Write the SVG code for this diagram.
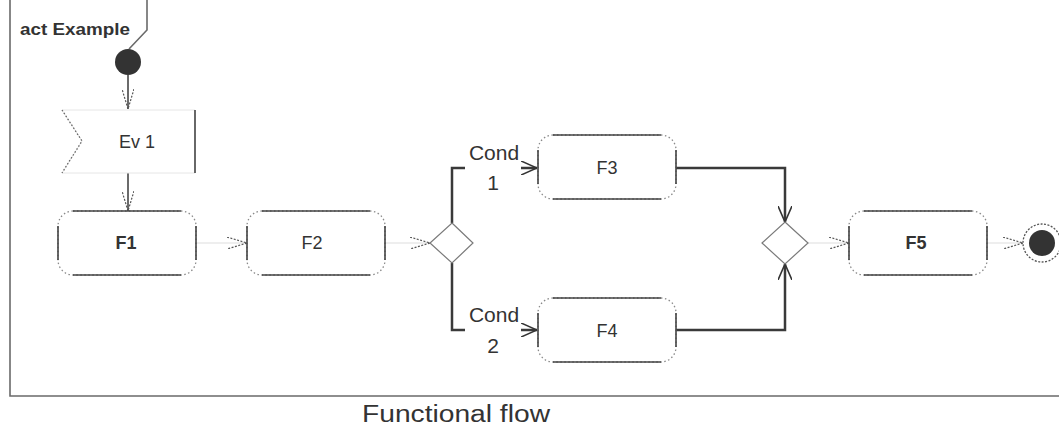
<svg xmlns="http://www.w3.org/2000/svg" width="1059" height="427" viewBox="0 0 1059 427">
<style>
  .frame{fill:none;stroke:#6a6a6a;stroke-width:1.6}
  .act{fill:#fff;stroke:#8a8a8a;stroke-width:1.3;stroke-dasharray:1.5 2.5}
  .side{fill:none;stroke:#444;stroke-width:1.6}
  .lbl{font-family:"Liberation Sans",Arial,sans-serif;font-size:18px;fill:#333;text-anchor:middle}
  .b{font-weight:bold}
  .cond{font-family:"Liberation Sans",Arial,sans-serif;font-size:21px;fill:#333;text-anchor:middle}
  .edge{fill:none;stroke:#3a3a3a;stroke-width:1.5}
  .faint{stroke:#e8e8e8}
  .thick{stroke-width:2.5}
  .dia{fill:#fff;stroke:#7a7a7a;stroke-width:1.2}
</style>
<defs>
  <marker id="ah" viewBox="0 0 20 12" refX="20" refY="6" markerWidth="20" markerHeight="12" markerUnits="userSpaceOnUse" orient="auto">
    <path d="M0,0 L20,6 L0,12" fill="none" stroke="#555" stroke-width="1.2" stroke-dasharray="2,1.5"/>
  </marker>
  <marker id="as" viewBox="0 0 16 14" refX="16" refY="7" markerWidth="16" markerHeight="14" markerUnits="userSpaceOnUse" orient="auto">
    <path d="M0,0 L16,7 L0,14" fill="none" stroke="#333" stroke-width="1.6"/>
  </marker>
</defs>

<g id="frame">
  <path class="frame" d="M10,0 V396 H1059"/>
  <polyline class="frame" points="147,0 147,30 129,49" stroke-width="1"/>
  <text x="20" y="35" font-family="Liberation Sans,Arial,sans-serif" font-size="17" font-weight="bold" fill="#333" textLength="110" lengthAdjust="spacingAndGlyphs">act Example</text>
</g>

<g id="connectors">
  <path class="edge" d="M128,75 V109" marker-end="url(#ah)"/>
  <path class="edge" d="M128,173 V211" marker-end="url(#ah)"/>
  <path class="edge faint" d="M197,243 H247" marker-end="url(#ah)"/>
  <path class="edge faint" d="M385,243 H430" marker-end="url(#ah)"/>
  <path class="edge thick" d="M452,223 V168 H537" marker-end="url(#as)"/>
  <path class="edge thick" d="M452,263 V330 H537" marker-end="url(#as)"/>
  <path class="edge thick" d="M676,168 H785 V222" marker-end="url(#as)"/>
  <path class="edge thick" d="M676,330 H785 V264" marker-end="url(#as)"/>
  <path class="edge faint" d="M808,243 H849" marker-end="url(#ah)"/>
  <path class="edge faint" d="M987,243 H1023" marker-end="url(#ah)"/>
  <g id="cond1">
    <rect x="465" y="142" width="56" height="50" fill="#fff"/>
    <text class="cond" x="494" y="160">Cond</text>
    <text class="cond" x="493" y="190">1</text>
  </g>
  <g id="cond2">
    <rect x="465" y="304" width="56" height="52" fill="#fff"/>
    <text class="cond" x="494" y="322">Cond</text>
    <text class="cond" x="493" y="353">2</text>
  </g>
</g>

<g id="initial">
  <circle cx="128" cy="62" r="13" fill="#333"/>
</g>

<g id="ev1">
  <polygon fill="#fff" stroke="#e6e6e6" stroke-width="1" points="62,110 195,110 195,173 62,173 82,141"/>
  <polyline fill="none" stroke="#666" stroke-width="1.3" stroke-dasharray="1.5 2" points="62,110 82,141 62,173"/>
  <line x1="195" y1="110" x2="195" y2="173" stroke="#444" stroke-width="1.6"/>
  <text class="lbl" x="137" y="148">Ev 1</text>
</g>

<g id="f1">
  <rect class="act" x="58" y="211" width="138" height="64" rx="15"/>
  <path class="side" d="M73,211 h108 M196,226 v34 M73,275 h108 M58,226 v34"/>
  <text class="lbl b" x="126" y="249">F1</text>
</g>

<g id="f2">
  <rect class="act" x="247" y="211" width="138" height="64" rx="15"/>
  <path class="side" d="M262,211 h108 M385,226 v34 M262,275 h108 M247,226 v34"/>
  <text class="lbl" x="312" y="249">F2</text>
</g>

<g id="decision">
  <polygon class="dia" points="452,223 473,243 452,263 430,243"/>
</g>

<g id="f3">
  <rect class="act" x="538" y="135" width="138" height="64" rx="15"/>
  <path class="side" d="M553,135 h108 M676,150 v34 M553,199 h108 M538,150 v34"/>
  <text class="lbl" x="607" y="174">F3</text>
</g>

<g id="f4">
  <rect class="act" x="538" y="298" width="138" height="64" rx="15"/>
  <path class="side" d="M553,298 h108 M676,313 v34 M553,362 h108 M538,313 v34"/>
  <text class="lbl" x="607" y="337">F4</text>
</g>

<g id="merge">
  <polygon class="dia" points="785,222 808,243 785,264 762,243"/>
</g>

<g id="f5">
  <rect class="act" x="849" y="211" width="138" height="64" rx="15"/>
  <path class="side" d="M864,211 h108 M987,226 v34 M864,275 h108 M849,226 v34"/>
  <text class="lbl b" x="916" y="249">F5</text>
</g>

<g id="final">
  <circle cx="1042" cy="243" r="19" fill="#fff" stroke="#555" stroke-width="1.3" stroke-dasharray="2,1.5"/>
  <circle cx="1042" cy="243" r="13" fill="#333"/>
</g>

<text x="456" y="422" font-family="Liberation Sans,Arial,sans-serif" font-size="23" fill="#333" text-anchor="middle" textLength="188" lengthAdjust="spacingAndGlyphs">Functional flow</text>
</svg>
